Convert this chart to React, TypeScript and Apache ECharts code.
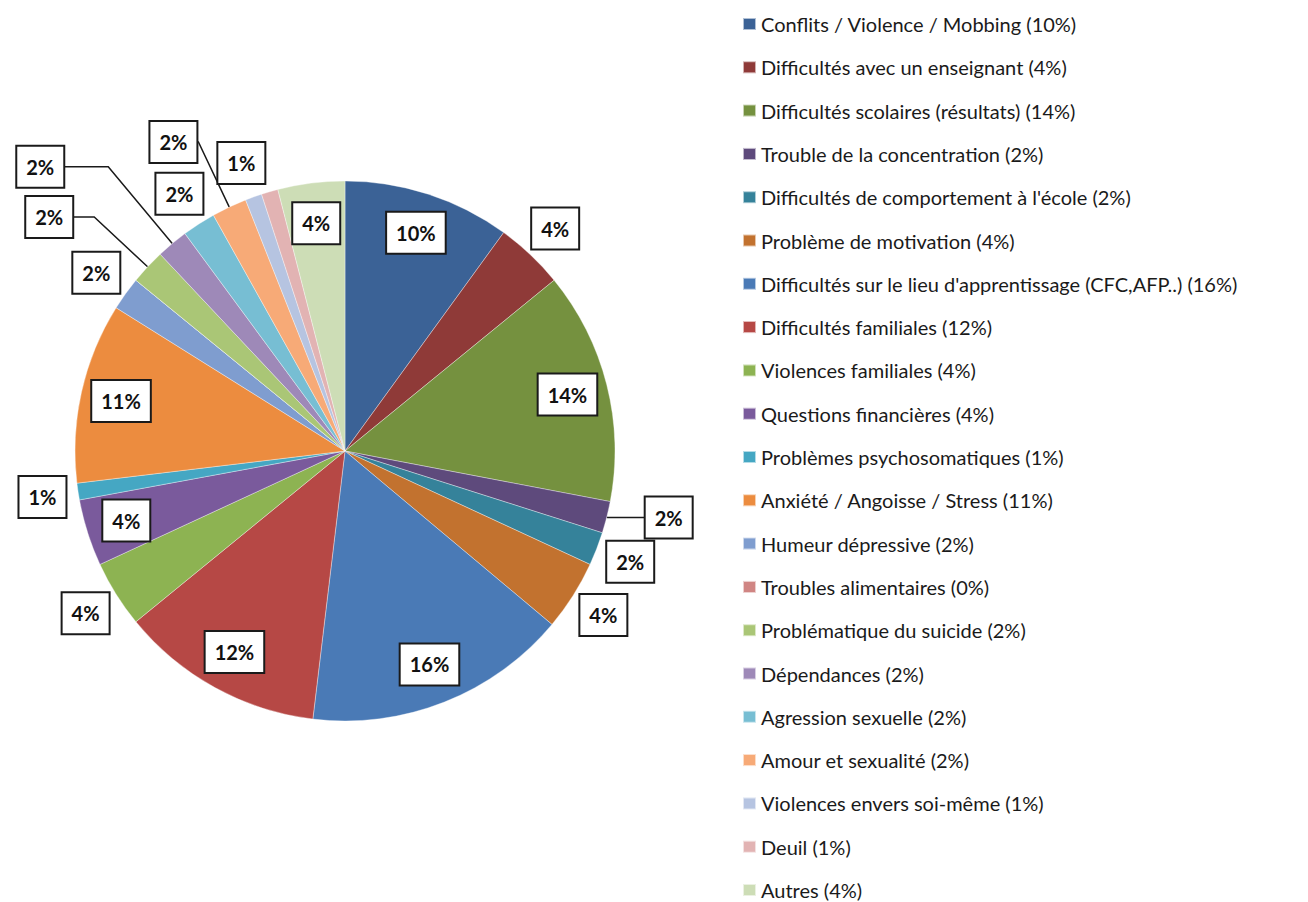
import React, { useEffect, useRef } from "react";
import * as echarts from "echarts";

const categories = [
  "Conflits / Violence / Mobbing",
  "Difficultés avec un enseignant",
  "Difficultés scolaires (résultats)",
  "Trouble de la concentration",
  "Difficultés de comportement à l'école",
  "Problème de motivation",
  "Difficultés sur le lieu d'apprentissage (CFC,AFP..)",
  "Difficultés familiales",
  "Violences familiales",
  "Questions financières",
  "Problèmes psychosomatiques",
  "Anxiété / Angoisse / Stress",
  "Humeur dépressive",
  "Troubles alimentaires",
  "Problématique du suicide",
  "Dépendances",
  "Agression sexuelle",
  "Amour et sexualité",
  "Violences envers soi-même",
  "Deuil",
  "Autres",
];

// percentage shares
const values = [10.0, 4.1, 13.9, 1.9, 2.0, 4.2, 15.8, 12.2, 4.0, 4.0, 1.0, 10.8, 2.0, 0, 2.1, 1.9, 2.0, 2.1, 1.0, 1.0, 4.0];

const colors = [
  "#3B6296", "#8F3A38", "#75913F", "#5E4A7C", "#35829A", "#C2722F",
  "#4A7AB6", "#B64845", "#8DB352", "#7A5A9C", "#45A7C3", "#EC8C3F",
  "#7F9DCF", "#D08583", "#AAC676", "#9E89B8", "#77BED3", "#F7AA77",
  "#B6C4E1", "#E2B3B3", "#CDDDB6",
];

// which slices get which kind of label
const insideLabels = [0, 2, 6, 7, 9, 11, 20];
const outsideLabels = [1, 4, 5, 8, 10, 12, 16, 18];
// leader-line labels: [index, radial length, horizontal length]
const leaderLabels: [number, number, number][] = [
  [3, 1, 38],
  [14, 73, 22],
  [15, 100, 45],
  [17, 72, 2],
];

const pct = (v: number) => Math.round(v) + "%";

const boxLabel = {
  color: "#111",
  fontFamily: "Lato, 'Open Sans', sans-serif",
  fontWeight: "bold" as const,
  fontSize: 20,
  lineHeight: 22,
  backgroundColor: "#ffffff",
  borderColor: "#1a1a1a",
  borderWidth: 2,
  padding: [9, 9, 9, 9],
};

export default function App() {
  const ref = useRef<HTMLDivElement>(null);

  useEffect(() => {
    document.body.style.margin = "0";
    if (!ref.current) return;
    const chart = echarts.init(ref.current, undefined, { renderer: "svg" });

    const center = [345, 451];
    const R = 270;

    const mainData = categories.map((name, i) => {
      const lead = leaderLabels.find((l) => l[0] === i);
      const item: any = {
        name,
        value: values[i],
        itemStyle: { color: colors[i] },
      };
      if (lead) {
        item.label = { show: true, position: "outside", ...boxLabel, distanceToLabelLine: 0, formatter: pct(values[i]) };
        item.labelLine = {
          show: true,
          length: lead[1],
          length2: lead[2],
          smooth: false,
          lineStyle: { color: "#1a1a1a", width: 1.5 },
        };
      } else {
        item.label = { show: false };
        item.labelLine = { show: false };
      }
      return item;
    });

    const labelData = (which: number[]) =>
      categories.map((name, i) => ({
        name,
        value: values[i],
        itemStyle: { color: "rgba(0,0,0,0)", borderWidth: 0 },
        label: which.includes(i)
          ? { show: true, position: "inside", ...boxLabel, formatter: pct(values[i]) }
          : { show: false },
        labelLine: { show: false },
      }));

    chart.setOption({
      animation: false,
      backgroundColor: "#ffffff",
      legend: {
        orient: "vertical",
        left: 742,
        top: 14,
        height: 886,
        padding: 0,
        itemWidth: 13,
        itemHeight: 12,
        itemGap: 23.3,
        icon: "rect",
        selectedMode: false,
        data: categories,
        formatter: (name: string) => {
          const i = categories.indexOf(name);
          return name + " (" + pct(values[i]) + ")";
        },
        textStyle: {
          color: "#1a1a1a",
          fontSize: 20,
          lineHeight: 20,
          fontFamily: "Lato, 'Open Sans', sans-serif",
        },
      },
      series: [
        {
          type: "pie",
          name: "main",
          center,
          radius: R,
          startAngle: 90,
          clockwise: true,
          avoidLabelOverlap: false,
          labelLayout: { hideOverlap: false },
          itemStyle: { borderColor: "rgba(255,255,255,0.6)", borderWidth: 0.6 },
          emphasis: { disabled: true },
          data: mainData,
        },
        {
          type: "pie",
          name: "inside-labels",
          center,
          radius: [183, R],
          startAngle: 90,
          silent: true,
          avoidLabelOverlap: false,
          labelLayout: { hideOverlap: false },
          emphasis: { disabled: true },
          data: labelData(insideLabels),
        },
        {
          type: "pie",
          name: "outside-labels",
          center,
          radius: [300, 306],
          startAngle: 90,
          silent: true,
          avoidLabelOverlap: false,
          labelLayout: { hideOverlap: false },
          emphasis: { disabled: true },
          data: labelData(outsideLabels),
        },
      ],
    });

    return () => chart.dispose();
  }, []);

  return <div ref={ref} style={{ width: 1308, height: 902 }} />;
}
